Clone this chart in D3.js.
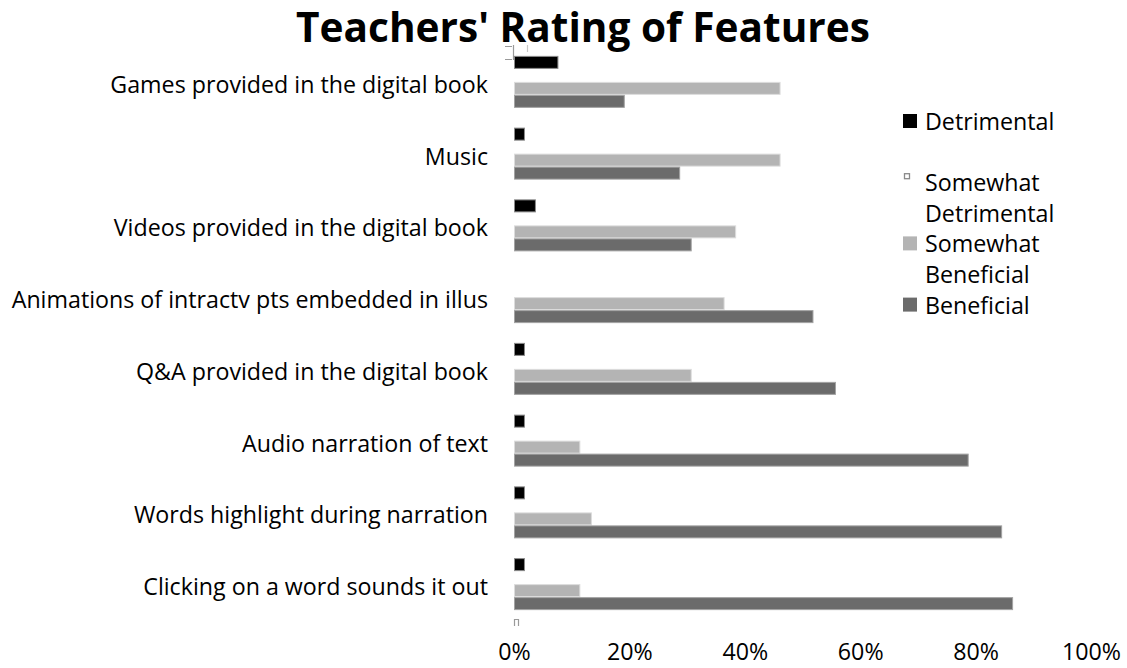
<!DOCTYPE html>
<html><head><meta charset="utf-8">
<script src="https://cdn.jsdelivr.net/npm/d3@7"></script>
<style>body{margin:0;background:#fff} svg{display:block}</style>
</head><body><svg id="c" width="1127" height="668"></svg>
<script>
// ---- data ----
const categories = ["Games provided in the digital book","Music","Videos provided in the digital book","Animations of intractv pts embedded in illus","Q&A provided in the digital book","Audio narration of text","Words highlight during narration","Clicking on a word sounds it out"];
const seriesNames = ["Detrimental","Somewhat Detrimental","Somewhat Beneficial","Beneficial"];
const detrimental = [7.7,1.9,3.8,0,1.9,1.9,1.9,1.9];
const somewhatDetrimental = [0,0,0,0,0,0,0,0];
const somewhatBeneficial = [46.2,46.2,38.5,36.5,30.8,11.5,13.5,11.5];
const beneficial = [19.2,28.8,30.8,51.9,55.8,78.8,84.6,86.5];
const xTicks = [0,20,40,60,80,100];
const legendLines = [["Detrimental"],["Somewhat","Detrimental"],["Somewhat","Beneficial"],["Beneficial"]];
const titleText = "Teachers' Rating of Features";

// ---- styles ----
const FONT = "'Open Sans', 'Noto Sans', sans-serif";
const fills = {"Detrimental":"#000000","Somewhat Detrimental":"#ffffff","Somewhat Beneficial":"#b4b4b4","Beneficial":"#6b6b6b"};
const strokes = {"Detrimental":"#8a8a8a","Somewhat Detrimental":"#8a8a8a","Somewhat Beneficial":"#dcdcdc","Beneficial":"#a3a3a3"};
const values = {"Detrimental":detrimental,"Somewhat Detrimental":somewhatDetrimental,"Somewhat Beneficial":somewhatBeneficial,"Beneficial":beneficial};

const svg = d3.select("#c");

// fit a font size so that sample text has target width
function fitSize(text, family, weight, target) {
  const t = svg.append("text").attr("font-family", family).attr("font-weight", weight).attr("font-size", 100).text(text);
  const w = t.node().getComputedTextLength();
  t.remove();
  return 100 * target / w;
}
const labelSize = fitSize("Games provided in the digital book", FONT, 400, 378);
const titleSize = fitSize(titleText, FONT, 700, 574);

// ---- scales ----
const x = d3.scaleLinear().domain([0, 100]).range([514, 1091]);
const y0 = d3.scaleBand().domain(categories).range([46, 620]).padding(0);
const y1 = d3.scaleBand().domain(seriesNames).range([0, y0.bandwidth()]).paddingInner(0).paddingOuter(0.76);

// ---- title ----
svg.append("text").attr("x", 583).attr("y", 42).attr("text-anchor", "middle")
  .attr("font-family", FONT).attr("font-weight", 700).attr("font-size", titleSize)
  .attr("fill", "#000").text(titleText);

// ---- bars ----
const rows = categories.map((c, i) => ({c, i}));
const groups = svg.append("g").selectAll("g").data(rows).join("g")
  .attr("transform", d => `translate(0,${y0(d.c)})`);
groups.selectAll("rect").data(d => seriesNames.filter(s => values[s][d.i] > 0).map(s => ({s, v: values[s][d.i]})))
  .join("rect")
  .attr("x", x(0) + 0.5)
  .attr("y", d => y1(d.s) + 0.5)
  .attr("width", d => x(d.v) - x(0) - 1)
  .attr("height", y1.bandwidth() - 1)
  .attr("fill", d => fills[d.s])
  .attr("stroke", d => strokes[d.s])
  .attr("stroke-width", 1);

// small artifacts at top and bottom of the plot edge
const art = svg.append("g").attr("fill", "none").attr("stroke", "#9a9a9a").attr("stroke-width", 1.2);
art.append("path").attr("d", `M505,46.5H512 M${x(0)-0.5},45V60 M505,59.5H512`);
art.append("path").attr("d", `M527.5,45V52`).attr("stroke", "#c8c8c8");
art.append("path").attr("d", `M${x(0)+0.5},626V619.5H${x(0)+4.5}V626`);

// ---- y axis (category labels) ----
const yAxis = d3.axisLeft(y0).tickSize(0).tickPadding(0);
const gy = svg.append("g").attr("transform", "translate(488,0)").call(yAxis);
gy.select(".domain").remove();
gy.selectAll("text").attr("font-family", FONT).attr("font-size", labelSize).attr("fill", "#000")
  .attr("dy", null).attr("dominant-baseline", "auto")
  .attr("y", 11);

// ---- x axis (tick labels) ----
const xAxis = d3.axisBottom(x).tickValues(xTicks).tickFormat(d => d + "%").tickSize(0).tickPadding(0);
const gx = svg.append("g").attr("transform", "translate(0,0)").call(xAxis);
gx.select(".domain").remove();
gx.selectAll("text").attr("font-family", FONT).attr("font-size", labelSize).attr("fill", "#000")
  .attr("dy", null).attr("y", 660);

// ---- legend ----
const leg = svg.append("g");
seriesNames.forEach((s, k) => {
  const base = 130 + 61.2 * k;
  if (s === "Somewhat Detrimental") {
    leg.append("rect").attr("x", 904.5).attr("y", base - 17.5).attr("width", 5).attr("height", 5)
      .attr("fill", "#fff").attr("stroke", "#8a8a8a").attr("stroke-width", 1.3);
  } else {
    leg.append("rect").attr("x", 903).attr("y", base - 16).attr("width", 14).attr("height", 14)
      .attr("fill", fills[s]);
  }
  legendLines[k].forEach((line, j) => {
    leg.append("text").attr("x", 925).attr("y", base + j * 30.5)
      .attr("font-family", FONT).attr("font-size", labelSize).attr("fill", "#000").text(line);
  });
});
</script>
</body></html>
